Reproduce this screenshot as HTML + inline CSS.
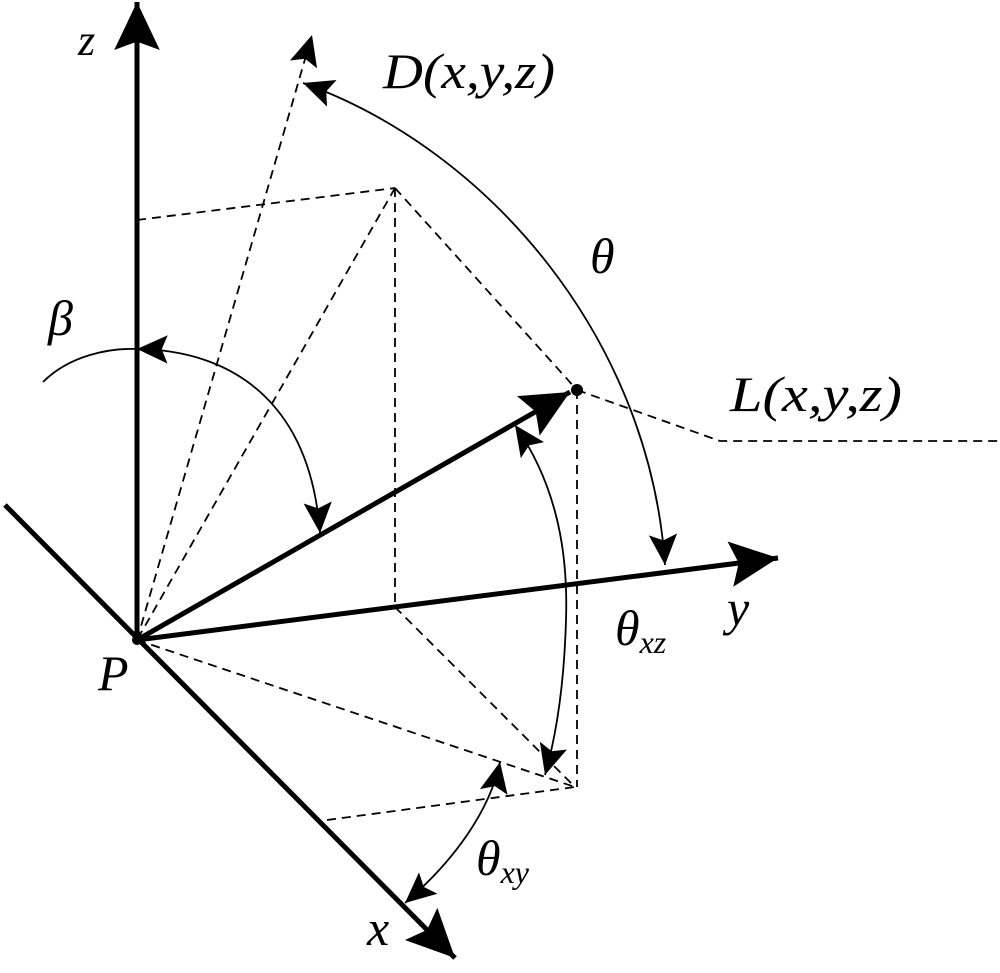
<!DOCTYPE html>
<html><head><meta charset="utf-8"><style>
html,body{margin:0;padding:0;background:#fff;}
svg{display:block;}
text{font-family:"Liberation Serif","DejaVu Serif",serif;font-style:italic;fill:#000;}
</style></head><body>
<svg width="1000" height="973" viewBox="0 0 1000 973" xmlns="http://www.w3.org/2000/svg">
<defs>
<marker id="big" markerUnits="userSpaceOnUse" markerWidth="60" markerHeight="60" viewBox="-45 -25 50 50" refX="0" refY="0" orient="auto-start-reverse">
<path d="M0,0 L-40,-19 L-33,0 L-40,19 Z" fill="#000"/>
</marker>
<marker id="sm" markerUnits="userSpaceOnUse" markerWidth="40" markerHeight="40" viewBox="-30 -15 34 30" refX="0" refY="0" orient="auto-start-reverse">
<path d="M0,0 L-26,-12 L-21,0 L-26,12 Z" fill="#000"/>
</marker>
</defs>
<g stroke="#000" fill="none">
<g stroke-width="1.8" stroke-dasharray="9,6">
<line x1="137" y1="640" x2="312" y2="35" marker-end="url(#sm)"/>
<line x1="137" y1="220" x2="395" y2="188"/>
<line x1="395" y1="188" x2="137" y2="640"/>
<line x1="395" y1="188" x2="577" y2="390"/>
<line x1="395" y1="188" x2="395" y2="607"/>
<line x1="395" y1="607" x2="575" y2="787"/>
<line x1="137" y1="640" x2="575" y2="787"/>
<line x1="327" y1="820" x2="575" y2="787"/>
<line x1="577" y1="390" x2="577" y2="787"/>
<polyline points="577,390 720,441 1000,441"/>
</g>
<g stroke-width="5">
<line x1="137" y1="642" x2="137" y2="2" marker-end="url(#big)"/>
<line x1="5" y1="505" x2="455" y2="958" marker-end="url(#big)"/>
<line x1="137" y1="640" x2="778" y2="558" marker-end="url(#big)"/>
<line x1="137" y1="640" x2="570" y2="392" marker-end="url(#big)"/>
</g>
<g stroke-width="1.8">
<path d="M303,83 C490,150 650,340 665,565" marker-start="url(#sm)" marker-end="url(#sm)"/>
<path d="M43,382 C70,355 110,348 137,349"/>
<path d="M137,349 C230,350 310,400 320,533" marker-start="url(#sm)" marker-end="url(#sm)"/>
<path d="M515,425 C560,490 568,560 566,620 C564,690 555,740 545,775" marker-start="url(#sm)" marker-end="url(#sm)"/>
<path d="M500,762 C490,810 455,860 405,903" marker-start="url(#sm)" marker-end="url(#sm)"/>
</g>
</g>
<circle cx="137" cy="640" r="5" fill="#000"/>
<circle cx="577" cy="390" r="6" fill="#000"/>
<text x="78" y="55" font-size="44">z</text>
<text x="383" y="88" font-size="50" textLength="172" lengthAdjust="spacingAndGlyphs">D(x,y,z)</text>
<text x="590" y="273" font-size="50">θ</text>
<text x="48" y="335" font-size="50">β</text>
<text x="730" y="411" font-size="50" textLength="172" lengthAdjust="spacingAndGlyphs">L(x,y,z)</text>
<text x="727" y="625" font-size="50">y</text>
<text x="615" y="645" font-size="50">θ<tspan font-size="32" dy="8">xz</tspan></text>
<text x="98" y="690" font-size="50">P</text>
<text x="476" y="875" font-size="50">θ<tspan font-size="32" dy="8">xy</tspan></text>
<text x="367" y="945" font-size="50">x</text>
</svg>
</body></html>
